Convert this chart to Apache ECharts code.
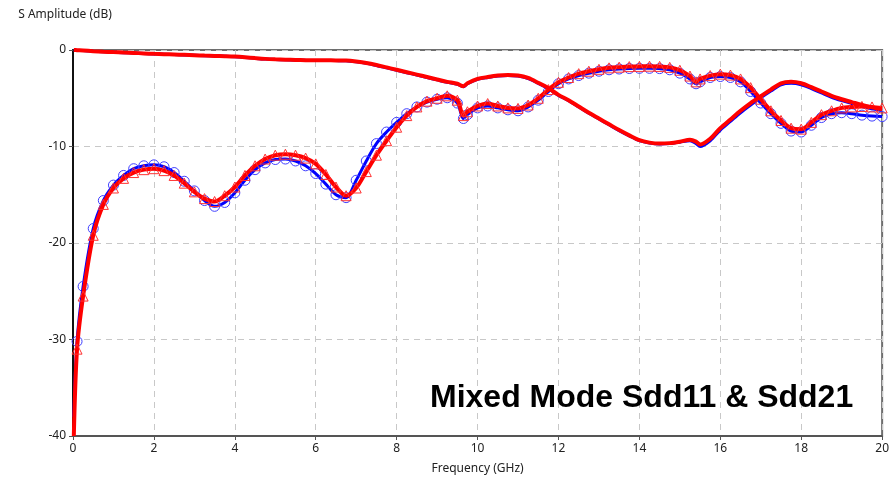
<!DOCTYPE html>
<html>
<head>
<meta charset="utf-8">
<script src="https://cdn.jsdelivr.net/npm/echarts@6/dist/echarts.min.js"></script>
<style>
html,body{margin:0;padding:0;background:#fff;}
#chart{width:892px;height:487px;}
</style>
</head>
<body>
<div id="chart"></div>
<script>
// Frequency points (GHz)
var freq = [0.02,0.1,0.25,0.5,0.75,1,1.25,1.5,1.75,2,2.25,2.5,2.75,3,3.25,3.5,3.75,4,4.25,4.5,4.75,5,5.25,5.5,5.75,6,6.25,6.5,6.75,7,7.25,7.5,7.75,8,8.25,8.5,8.75,9,9.25,9.5,9.65,9.75,10,10.25,10.5,10.75,11,11.25,11.5,11.75,12,12.25,12.5,12.75,13,13.25,13.5,13.75,14,14.25,14.5,14.75,15,15.25,15.4,15.5,15.75,16,16.25,16.5,16.75,17,17.25,17.5,17.75,18,18.25,18.5,18.75,19,19.25,19.5,19.75,20];

// Sdd11 (red, triangles)
var sdd11Red = [-40,-31,-25.5,-19.2,-16.0,-14.3,-13.3,-12.7,-12.4,-12.3,-12.5,-13.0,-13.8,-14.7,-15.4,-15.7,-15.1,-14.2,-13.0,-12.0,-11.3,-10.9,-10.8,-10.9,-11.2,-11.8,-12.9,-14.2,-15.1,-14.3,-12.6,-10.9,-9.4,-8.0,-6.8,-5.9,-5.3,-5.0,-4.75,-5.2,-6.8,-6.4,-5.8,-5.55,-5.8,-6.0,-6.05,-5.7,-5.0,-4.1,-3.35,-2.85,-2.45,-2.2,-2.0,-1.85,-1.78,-1.72,-1.7,-1.68,-1.7,-1.8,-2.1,-2.7,-3.3,-3.0,-2.65,-2.5,-2.6,-3.0,-3.9,-5.1,-6.3,-7.3,-8.1,-8.2,-7.5,-6.7,-6.3,-6.0,-5.9,-5.85,-5.9,-6.0];

// Sdd11 (blue, circles)
var sdd11Blue = [-38,-30.2,-24.5,-18.5,-15.6,-14.0,-13.0,-12.3,-12.0,-11.9,-12.1,-12.7,-13.6,-14.6,-15.6,-16.2,-15.8,-14.8,-13.5,-12.4,-11.7,-11.35,-11.3,-11.5,-12.0,-12.8,-13.9,-15.0,-15.3,-13.5,-11.5,-9.7,-8.5,-7.5,-6.6,-5.9,-5.4,-5.1,-4.95,-5.5,-7.1,-6.7,-6.0,-5.8,-6.0,-6.2,-6.3,-5.9,-5.2,-4.3,-3.5,-3.0,-2.65,-2.4,-2.2,-2.05,-1.97,-1.92,-1.9,-1.9,-1.93,-2.05,-2.4,-3.0,-3.5,-3.3,-2.85,-2.75,-2.85,-3.3,-4.3,-5.5,-6.6,-7.6,-8.4,-8.5,-7.8,-7.0,-6.6,-6.5,-6.6,-6.75,-6.85,-6.9];

// Sdd21 (red)
var sdd21Red = [0,-0.02,-0.05,-0.12,-0.18,-0.22,-0.27,-0.3,-0.35,-0.4,-0.43,-0.46,-0.5,-0.54,-0.58,-0.61,-0.64,-0.68,-0.75,-0.84,-0.92,-0.97,-1.0,-1.03,-1.05,-1.06,-1.07,-1.08,-1.1,-1.2,-1.34,-1.55,-1.8,-2.05,-2.3,-2.55,-2.8,-3.05,-3.3,-3.5,-3.75,-3.45,-3.0,-2.8,-2.65,-2.6,-2.65,-2.9,-3.4,-3.95,-4.65,-5.2,-5.85,-6.5,-7.1,-7.7,-8.3,-8.85,-9.35,-9.6,-9.7,-9.65,-9.5,-9.3,-9.5,-9.8,-9.2,-8.1,-7.2,-6.3,-5.5,-4.8,-4.1,-3.45,-3.3,-3.45,-3.85,-4.3,-4.75,-5.1,-5.4,-5.7,-5.95,-6.15];

// Sdd21 (blue)
var sdd21Blue = [0,-0.02,-0.06,-0.13,-0.19,-0.23,-0.28,-0.31,-0.36,-0.41,-0.44,-0.47,-0.51,-0.55,-0.59,-0.62,-0.65,-0.7,-0.77,-0.86,-0.94,-0.99,-1.02,-1.05,-1.07,-1.08,-1.09,-1.1,-1.12,-1.23,-1.38,-1.6,-1.85,-2.1,-2.35,-2.6,-2.85,-3.1,-3.35,-3.55,-3.8,-3.5,-3.05,-2.85,-2.7,-2.65,-2.7,-2.95,-3.45,-4.0,-4.7,-5.25,-5.9,-6.55,-7.15,-7.75,-8.35,-8.9,-9.4,-9.65,-9.75,-9.7,-9.55,-9.4,-9.7,-10.0,-9.4,-8.3,-7.4,-6.5,-5.7,-4.95,-4.25,-3.6,-3.45,-3.6,-4.0,-4.45,-4.9,-5.25,-5.55,-5.85,-6.1,-6.3];

var yTicks = [-40,-30,-20,-10,0];
var xTicks = [0,2,4,6,8,10,12,14,16,18,20];

function pairs(ys, hideFirstSymbol){
  return freq.map(function(f,i){
    if (hideFirstSymbol && i === 0) return {value:[f, ys[i]], symbol:'none'};
    return [f, ys[i]];
  });
}

var FONT = 'Noto Sans';
var chart = echarts.init(document.getElementById('chart'), null, {renderer:'canvas'});
chart.setOption({
  animation:false,
  backgroundColor:'#ffffff',
  textStyle:{fontFamily:FONT},
  grid:{left:73,right:9,top:50,bottom:51,show:true,borderColor:'#6e6e6e',borderWidth:2,backgroundColor:'transparent'},
  xAxis:{
    type:'value',min:xTicks[0],max:xTicks[xTicks.length-1],interval:2,
    name:'Frequency (GHz)',nameLocation:'middle',nameGap:27,
    nameTextStyle:{fontFamily:FONT,fontSize:12,color:'#222'},
    axisLine:{show:true,onZero:false,lineStyle:{color:'#555',width:2}},
    axisTick:{show:true,length:4,lineStyle:{color:'#555'}},
    axisLabel:{fontFamily:FONT,fontSize:12,color:'#222',margin:7},
    splitLine:{show:true,lineStyle:{color:'#c8c8c8',type:[6,5],width:1}}
  },
  yAxis:{
    type:'value',min:yTicks[0],max:yTicks[yTicks.length-1],interval:10,
    name:'S Amplitude (dB)',nameLocation:'end',nameGap:29,
    nameTextStyle:{fontFamily:FONT,fontSize:12,color:'#222',padding:[0,16,0,0]},
    axisLine:{show:true,onZero:false,lineStyle:{color:'#111',width:2}},
    axisTick:{show:true,length:4,lineStyle:{color:'#555'}},
    axisLabel:{fontFamily:FONT,fontSize:12,color:'#222',margin:7},
    splitLine:{show:true,lineStyle:{color:'#c8c8c8',type:[6,5],width:1}}
  },
  graphic:[{
    type:'text',left:430,top:382,z:100,
    style:{text:'Mixed Mode Sdd11 & Sdd21',fill:'#000',font:'bold 32px "Liberation Sans", Arial, sans-serif'}
  }],
  series:[
    {name:'Sdd21 (blue)',type:'line',data:pairs(sdd21Blue,false),smooth:0.3,showSymbol:false,
      lineStyle:{color:'#0000ff',width:3},itemStyle:{color:'#0000ff'},z:2},
    {name:'Sdd11 (blue)',type:'line',data:pairs(sdd11Blue,true),smooth:0.3,showSymbol:true,showAllSymbol:true,
      symbol:'circle',symbolSize:10,
      lineStyle:{color:'#0000ff',width:3},
      itemStyle:{color:'rgba(0,0,0,0)',borderColor:'#4040ff',borderWidth:1},z:3},
    {name:'Sdd11 (red)',type:'line',data:pairs(sdd11Red,true),smooth:0.3,showSymbol:true,showAllSymbol:true,
      symbol:'triangle',symbolSize:10,
      lineStyle:{color:'#ff0000',width:4},
      itemStyle:{color:'rgba(0,0,0,0)',borderColor:'#ff3030',borderWidth:1},z:4},
    {name:'Sdd21 (red)',type:'line',data:pairs(sdd21Red,false),smooth:0.3,showSymbol:false,
      lineStyle:{color:'#ff0000',width:4},itemStyle:{color:'#ff0000'},z:5}
  ]
});
</script>
</body>
</html>
